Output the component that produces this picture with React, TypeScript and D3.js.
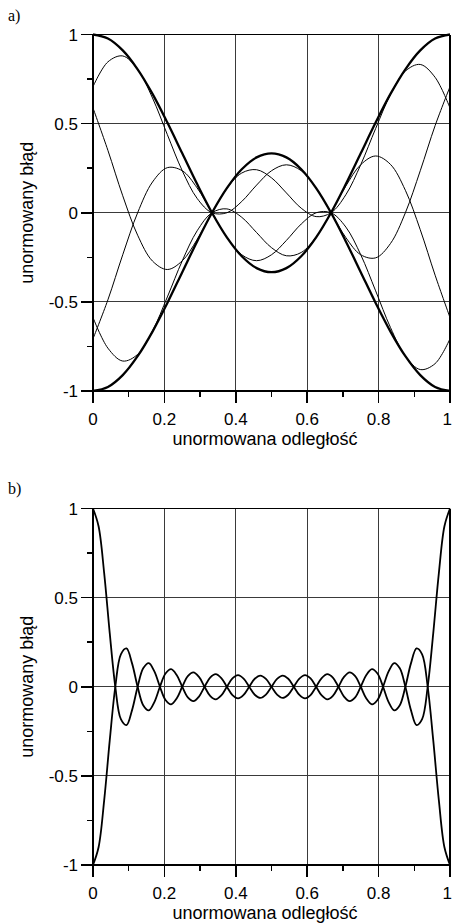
import React from 'react';
import * as d3 from 'd3';

// ---- axis ticks ----
const xTicks = [0, 0.2, 0.4, 0.6, 0.8, 1];
const xTickLabels = ['0', '0.2', '0.4', '0.6', '0.8', '1'];
const xMinorTicks = [0.1, 0.3, 0.5, 0.7, 0.9];
const xGrid = [0.2, 0.4, 0.6, 0.8];
const yTicks = [-1, -0.5, 0, 0.5, 1];
const yTickLabels = ['-1', '-0.5', '0', '0.5', '1'];
const yMinorTicks = [-0.75, -0.25, 0.25, 0.75];
const yGrid = [-0.5, 0, 0.5];

const xTitle = 'unormowana odległość';
const yTitle = 'unormowany błąd';

// ---- panel a data ----
const xA = [0, 0.0417, 0.0833, 0.125, 0.1667, 0.2083, 0.25, 0.2917, 0.3333, 0.375, 0.4167, 0.4583, 0.5,
  0.5417, 0.5833, 0.625, 0.6667, 0.7083, 0.75, 0.7917, 0.8333, 0.875, 0.9167, 0.9583, 1];
const aThickUpper = [1, 0.9773, 0.9107, 0.8047, 0.6667, 0.5059, 0.3333, 0.1608, 0, -0.1381, -0.244, -0.3106, -0.3333,
  -0.3106, -0.244, -0.1381, 0, 0.1608, 0.3333, 0.5059, 0.6667, 0.8047, 0.9107, 0.9773, 1];
const aThickLower = [-1, -0.9773, -0.9107, -0.8047, -0.6667, -0.5059, -0.3333, -0.1608, 0, 0.1381, 0.244, 0.3106, 0.3333,
  0.3106, 0.244, 0.1381, 0, -0.1608, -0.3333, -0.5059, -0.6667, -0.8047, -0.9107, -0.9773, -1];
const aThin1 = [0.7071, 0.8464, 0.8797, 0.8047, 0.644, 0.4381, 0.2357, 0.0804, 0, 0, 0.0632, 0.1553, 0.2357,
  0.269, 0.2357, 0.1381, 0, -0.1393, -0.2357, -0.253, -0.1725, 0, 0.2357, 0.4887, 0.7071];
const aThin2 = [0.5878, 0.3503, 0.0952, -0.1259, -0.2711, -0.3184, -0.2697, -0.1501, 0, 0.1364, 0.2229, 0.2414, 0.1959,
  0.1113, 0.0255, -0.0216, 0, 0.1012, 0.2697, 0.4723, 0.663, 0.7948, 0.8319, 0.7595, 0.5878];
const aThin3 = [-0.5878, -0.7595, -0.8319, -0.7948, -0.663, -0.4723, -0.2697, -0.1012, 0, 0.0216, -0.0255, -0.1113, -0.1959,
  -0.2414, -0.2229, -0.1364, 0, 0.1501, 0.2697, 0.3184, 0.2711, 0.1259, -0.0952, -0.3503, -0.5878];
const aThin4 = [-0.7071, -0.4887, -0.2357, 0, 0.1725, 0.253, 0.2357, 0.1393, 0, -0.1381, -0.2357, -0.269, -0.2357,
  -0.1553, -0.0632, 0, 0, -0.0804, -0.2357, -0.4381, -0.644, -0.8047, -0.8797, -0.8464, -0.7071];

// ---- panel b data ----
const xB = [0, 0.0156, 0.0313, 0.0469, 0.0625, 0.0781, 0.0938, 0.1094, 0.125, 0.1406, 0.1563, 0.1719, 0.1875,
  0.2031, 0.2188, 0.2344, 0.25, 0.2656, 0.2813, 0.2969, 0.3125, 0.3281, 0.3438, 0.3594, 0.375, 0.3906, 0.4063,
  0.4219, 0.4375, 0.4531, 0.4688, 0.4844, 0.5, 0.5156, 0.5313, 0.5469, 0.5625, 0.5781, 0.5938, 0.6094, 0.625,
  0.6406, 0.6563, 0.6719, 0.6875, 0.7031, 0.7188, 0.7344, 0.75, 0.7656, 0.7813, 0.7969, 0.8125, 0.8281, 0.8438,
  0.8594, 0.875, 0.8906, 0.9063, 0.9219, 0.9375, 0.9531, 0.9688, 0.9844, 1];
const bUpper = [1, 0.9006, 0.6376, 0.3012, 0, -0.1819, -0.2153, -0.1312, 0, 0.1034, 0.1326, 0.086, 0, -0.0742,
  -0.0985, -0.0658, 0, 0.0596, 0.0809, 0.055, 0, -0.0515, -0.0709, -0.0489, 0, 0.0469, 0.0653, 0.0456, 0, -0.0447,
  -0.0628, -0.0442, 0, 0.0442, 0.0628, 0.0447, 0, -0.0456, -0.0653, -0.0469, 0, 0.0489, 0.0709, 0.0515, 0, -0.055,
  -0.0809, -0.0596, 0, 0.0658, 0.0985, 0.0742, 0, -0.086, -0.1326, -0.1034, 0, 0.1312, 0.2153, 0.1819, 0, -0.3012,
  -0.6376, -0.9006, -1];
const bLower = [-1, -0.9006, -0.6376, -0.3012, 0, 0.1819, 0.2153, 0.1312, 0, -0.1034, -0.1326, -0.086, 0, 0.0742,
  0.0985, 0.0658, 0, -0.0596, -0.0809, -0.055, 0, 0.0515, 0.0709, 0.0489, 0, -0.0469, -0.0653, -0.0456, 0, 0.0447,
  0.0628, 0.0442, 0, -0.0442, -0.0628, -0.0447, 0, 0.0456, 0.0653, 0.0469, 0, -0.0489, -0.0709, -0.0515, 0, 0.055,
  0.0809, 0.0596, 0, -0.0658, -0.0985, -0.0742, 0, 0.086, 0.1326, 0.1034, 0, -0.1312, -0.2153, -0.1819, 0, 0.3012,
  0.6376, 0.9006, 1];

const SANS = 'Liberation Sans, Arial, Helvetica, sans-serif';
const LEFT = 93;
const RIGHT = 450;

type Series = { xs: number[]; ys: number[]; width: number };

function Panel({ top, bottom, label, labelY, series }: { top: number; bottom: number; label: string; labelY: number; series: Series[] }) {
  const x = d3.scaleLinear().domain([0, 1]).range([LEFT, RIGHT]);
  const y = d3.scaleLinear().domain([-1, 1]).range([bottom, top]);
  const mkPath = (s: Series) =>
    d3.line<number>()
      .x((_, i) => x(s.xs[i]))
      .y((d) => y(d))
      .curve(d3.curveCatmullRom.alpha(0.5))(s.ys) || '';
  return (
    <g>
      <text x={8} y={labelY} fontFamily="Liberation Serif, Times New Roman, serif" fontSize={16} fill="#000">{label}</text>
      {/* grid */}
      <g stroke="#3a3a3a" strokeWidth={1} shapeRendering="crispEdges">
        {xGrid.map((v) => <line key={'gx' + v} x1={x(v)} x2={x(v)} y1={top} y2={bottom} />)}
        {yGrid.map((v) => <line key={'gy' + v} x1={LEFT} x2={RIGHT} y1={y(v)} y2={y(v)} />)}
        <line x1={LEFT} x2={RIGHT} y1={top} y2={top} stroke="#000" />
      </g>
      {/* curves */}
      <g fill="none" stroke="#000" strokeLinejoin="round">
        {series.map((s, i) => <path key={i} d={mkPath(s)} strokeWidth={s.width} />)}
      </g>
      {/* frame */}
      <g stroke="#000" shapeRendering="crispEdges">
        <line x1={RIGHT} x2={RIGHT} y1={top} y2={bottom} strokeWidth={2} />
        <line x1={LEFT} x2={LEFT} y1={top} y2={bottom + 1} strokeWidth={2} />
        <line x1={LEFT} x2={RIGHT + 1} y1={bottom} y2={bottom} strokeWidth={2} />
        {yTicks.map((v) => <line key={'ty' + v} x1={LEFT - 12} x2={LEFT} y1={y(v)} y2={y(v)} strokeWidth={1.5} />)}
        {yMinorTicks.map((v) => <line key={'tym' + v} x1={LEFT - 6} x2={LEFT} y1={y(v)} y2={y(v)} strokeWidth={1.5} />)}
        {xTicks.map((v) => <line key={'tx' + v} x1={x(v)} x2={x(v)} y1={bottom} y2={bottom + 12} strokeWidth={1.5} />)}
        {xMinorTicks.map((v) => <line key={'txm' + v} x1={x(v)} x2={x(v)} y1={bottom} y2={bottom + 6} strokeWidth={1.5} />)}
      </g>
      {/* tick labels */}
      <g fontFamily={SANS} fontSize={17} fill="#000">
        {yTicks.map((v, i) => (
          <text key={'ly' + v} x={78} y={y(v) + 6} textAnchor="end">{yTickLabels[i]}</text>
        ))}
        {xTicks.map((v, i) => {
          const last = i === xTicks.length - 1;
          return (
            <text key={'lx' + v} x={last ? 452 : x(v)} y={bottom + 34} textAnchor={last ? 'end' : 'middle'}>{xTickLabels[i]}</text>
          );
        })}
      </g>
      <text x={265} y={bottom + 54} textAnchor="middle" fontFamily={SANS} fontSize={18} fill="#000">{xTitle}</text>
      <text transform={`translate(33,${(top + bottom) / 2}) rotate(-90)`} textAnchor="middle" fontFamily={SANS} fontSize={18} fill="#000">{yTitle}</text>
    </g>
  );
}

export default function App() {
  const seriesA: Series[] = [
    { xs: xA, ys: aThin1, width: 1 },
    { xs: xA, ys: aThin2, width: 1 },
    { xs: xA, ys: aThin3, width: 1 },
    { xs: xA, ys: aThin4, width: 1 },
    { xs: xA, ys: aThickUpper, width: 2.3 },
    { xs: xA, ys: aThickLower, width: 2.3 },
  ];
  const seriesB: Series[] = [
    { xs: xB, ys: bUpper, width: 1.8 },
    { xs: xB, ys: bLower, width: 1.8 },
  ];
  return (
    <svg width={452} height={924} style={{ position: 'absolute', left: 0, top: 0, background: '#fff' }}>
      <rect x={0} y={0} width={452} height={924} fill="#fff" />
      <Panel top={34.5} bottom={391} label="a)" labelY={20.5} series={seriesA} />
      <Panel top={508.5} bottom={865} label="b)" labelY={494} series={seriesB} />
    </svg>
  );
}
